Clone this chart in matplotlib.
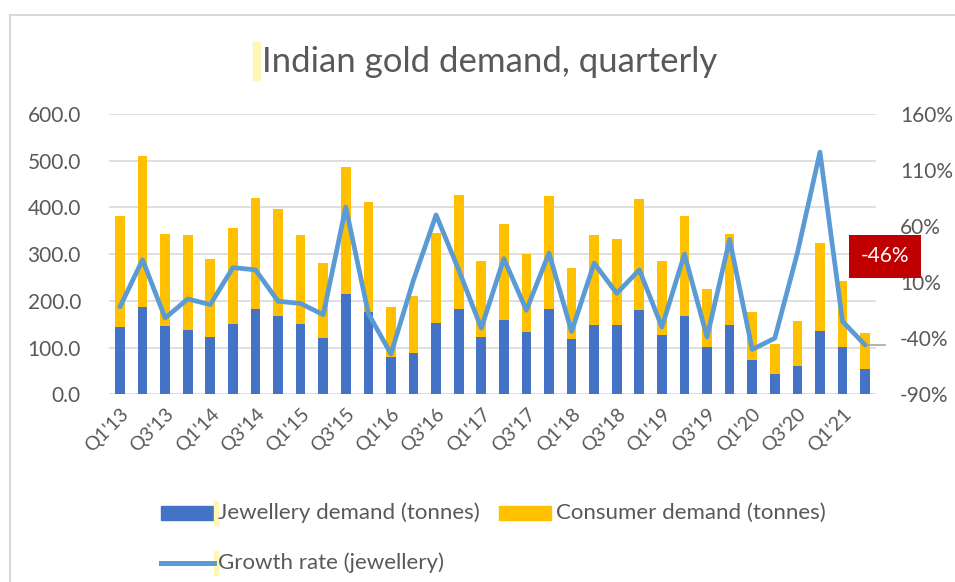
import matplotlib
matplotlib.use("Agg")
import matplotlib.pyplot as plt
from matplotlib.patches import Rectangle
from matplotlib.lines import Line2D
import numpy as np

plt.rcParams['font.family'] = ['Lato', 'DejaVu Sans']

# quarters Q1'13 .. Q2'21
quarters = [f"Q{q}'{y}" for y in range(13, 22) for q in range(1, 5)][:34]

jewellery = [144, 187, 146, 138, 123, 151, 183, 168, 151, 121, 214, 176, 79, 89,
             153, 182, 123, 160, 134, 182, 118, 149, 149, 180, 126, 168, 101, 149,
             74, 44, 60, 136, 101, 54]
consumer = [382, 511, 343, 342, 290, 356, 421, 396, 341, 281, 486, 412, 187, 211,
            346, 427, 285, 364, 301, 425, 271, 340, 332, 418, 285, 382, 226, 343,
            176, 107, 156, 324, 243, 131]
growth = [-12, 30, -22, -5, -10, 23, 21, -7, -9, -19, 77, -18, -54, 12,
          70, 21, -31, 31, -15, 36, -34, 27, 0, 21, -30, 35, -39, 48,
          -50, -40, 36, 126, -25, -46]

tick_labels = quarters[::2]

W, H = 955, 582
fig = plt.figure(figsize=(W / 100, H / 100), dpi=100)


def fx(px):
    return px / W


def fy(py):
    return 1 - py / H


grey = '#595959'
ax = fig.add_axes([fx(108.7), fy(394.3), fx(876.4) - fx(108.7), fy(114) - fy(394.3)])
x = np.arange(len(quarters))

ax.bar(x, consumer, width=0.43, color='#FFC000', zorder=2)
ax.bar(x, jewellery, width=0.43, color='#4472C4', zorder=3)
ax.set_xlim(-0.5, len(quarters) - 0.5)
ax.set_ylim(0, 600)
ax.set_yticks(range(0, 601, 100))
ax.set_yticklabels([f"{v:.1f}" for v in range(0, 601, 100)])
ax.yaxis.grid(True, color='#D9D9D9', lw=1.2, zorder=0)
ax.set_axisbelow(True)
for s in ax.spines.values():
    s.set_visible(False)
ax.tick_params(axis='y', length=0, labelsize=15, labelcolor=grey, pad=20)
ax.set_xticks(x[::2])
ax.set_xticklabels(tick_labels, rotation=45, ha='right', va='top',
                   rotation_mode='anchor', fontsize=14, color=grey)
ax.tick_params(axis='x', length=0, pad=8)

ax2 = ax.twinx()
ax2.plot(x, growth, color='#5B9BD5', lw=3.4, solid_joinstyle='round',
         solid_capstyle='round', zorder=5)
ax2.set_ylim(-90, 160)
ax2.set_yticks(range(-90, 161, 50))
ax2.set_yticklabels([f"{v}%" for v in range(-90, 161, 50)])
ax2.tick_params(axis='y', length=0, labelsize=15, labelcolor=grey, pad=17)
for s in ax2.spines.values():
    s.set_visible(False)

# callout on the last point
ax2.plot([x[-1], x[-1] + 0.9], [growth[-1], growth[-1]], color='#A6A6A6', lw=1.2,
         zorder=4, clip_on=False)
ax2.text(x[-1] + 0.88, 33, f"{growth[-1]}%", color='white', fontsize=15,
         ha='center', va='center', zorder=6, clip_on=False,
         bbox=dict(boxstyle='square,pad=0.55', fc='#C00000', ec='none'))

# title
fig.text(fx(262), fy(62), 'Indian gold demand, quarterly', fontsize=25,
         color=grey, ha='left', va='center')
fig.patches.append(Rectangle((fx(253), fy(80)), fx(7), fy(42) - fy(80),
                             transform=fig.transFigure, color='#FFF6B5'))

# chart border (left and top only visible)
fig.add_artist(Line2D([fx(10), fx(10)], [0, fy(15)], color='#D9D9D9', lw=1.5))
fig.add_artist(Line2D([fx(10), 1], [fy(15), fy(15)], color='#D9D9D9', lw=1.5))

# legend
fig.patches.append(Rectangle((fx(161), fy(520)), fx(53), fy(506) - fy(520),
                             transform=fig.transFigure, color='#4472C4'))
fig.patches.append(Rectangle((fx(499), fy(520)), fx(52), fy(506) - fy(520),
                             transform=fig.transFigure, color='#FFC000'))
fig.add_artist(Line2D([fx(161), fx(214)], [fy(563), fy(563)], color='#5B9BD5', lw=3.6))
for py in (513, 563):
    fig.patches.append(Rectangle((fx(214), fy(py + 12)), fx(4), fy(py - 12) - fy(py + 12),
                                 transform=fig.transFigure, color='#FFF6B5'))
fig.text(fx(218), fy(513), 'Jewellery demand (tonnes)', fontsize=16, color=grey, va='center')
fig.text(fx(556), fy(513), 'Consumer demand (tonnes)', fontsize=16, color=grey, va='center')
fig.text(fx(218), fy(563), 'Growth rate (jewellery)', fontsize=16, color=grey, va='center')

fig.savefig('out.png', dpi=100)
